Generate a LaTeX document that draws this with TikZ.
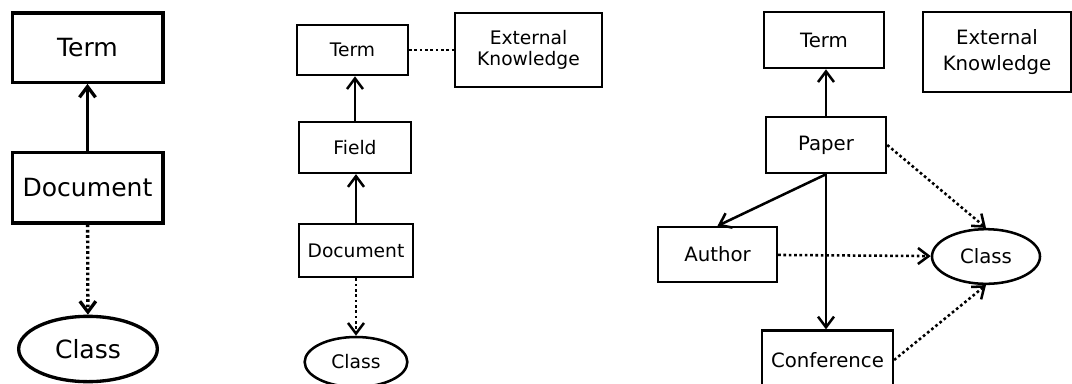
\documentclass[tikz,border=0pt]{standalone}
\usepackage{fontspec}
\setmainfont{DejaVu Sans}
\usetikzlibrary{shapes.geometric,arrows.meta}

\begin{document}
\begin{tikzpicture}[x=0.75pt,y=-0.75pt,
    box/.style={draw, inner sep=0pt, align=center},
    oval/.style={draw, ellipse, inner sep=0pt},
    link/.style={-{Straight Barb[length=8pt,width=12pt]}},
    dots/.style={dash pattern=on 2pt off 2pt}]
    \useasboundingbox (0,0) rectangle (1072,383);

    % document model
    \begin{scope}[line width=2.5pt, font=\fontsize{18.8}{21}\selectfont]
    \node[box, minimum width=113pt, minimum height=52pt] (term1) at (87.5,47.5) {Term};
    \node[box, minimum width=113pt, minimum height=53pt] (doc1) at (87.5,187.5) {Document};
    \node[oval, minimum width=104pt, minimum height=49pt] (class1) at (88,349) {Class};
    \draw[link] (doc1) -- (term1);
    \draw[link, dots] (doc1) -- (class1);
    \end{scope}

    % field model
    \begin{scope}[line width=1.9pt, font=\fontsize{14}{15.5}\selectfont]
    \node[box, minimum width=83pt, minimum height=37.5pt] (term2) at (352.5,50) {Term};
    \node[box, minimum width=110pt, minimum height=55.5pt] (ext2) at (528.5,50) {External\\Knowledge};
    \node[box, minimum width=84pt, minimum height=38pt] (field2) at (355,147.5) {Field};
    \node[box, minimum width=85.5pt, minimum height=40pt] (doc2) at (356,250.5) {Document};
    \node[oval, minimum width=77pt, minimum height=37.5pt] (class2) at (356,362) {Class};
    \draw[dots] (term2) -- (ext2);
    \draw[link] (field2.north) -- (field2.north |- term2.south);
    \draw[link] (doc2.north) -- (doc2.north |- field2.south);
    \draw[link, dots] (doc2) -- (class2);
    \end{scope}

    % paper model
    \begin{scope}[line width=1.9pt, font=\fontsize{14.8}{19}\selectfont]
    \node[box, minimum width=90pt, minimum height=42pt] (term3) at (824,40) {Term};
    \node[box, minimum width=111pt, minimum height=60pt] (ext3) at (997,52) {External\\Knowledge};
    \node[box, minimum width=90pt, minimum height=42pt] (paper3) at (826,145) {Paper};
    \node[box, minimum width=89pt, minimum height=41pt] (author3) at (717.5,254.5) {Author};
    \node[oval, minimum width=81pt, minimum height=41pt] (class3) at (986,256.5) {Class};
    \node[box, minimum width=98pt, minimum height=44pt] (conf3) at (827.5,360) {Conference};
    \draw[link] (paper3.north) -- (paper3.north |- term3.south);
    \draw[link] (paper3.south) -- (author3.north);
    \draw[link] (paper3.south) -- (paper3.south |- conf3.north);
    \draw[link, dots] (paper3.east) -- (class3.north);
    \draw[link, dots] (author3) -- (class3);
    \draw[link, dots] (conf3.east) -- (class3.south);
    \end{scope}
\end{tikzpicture}
\end{document}
